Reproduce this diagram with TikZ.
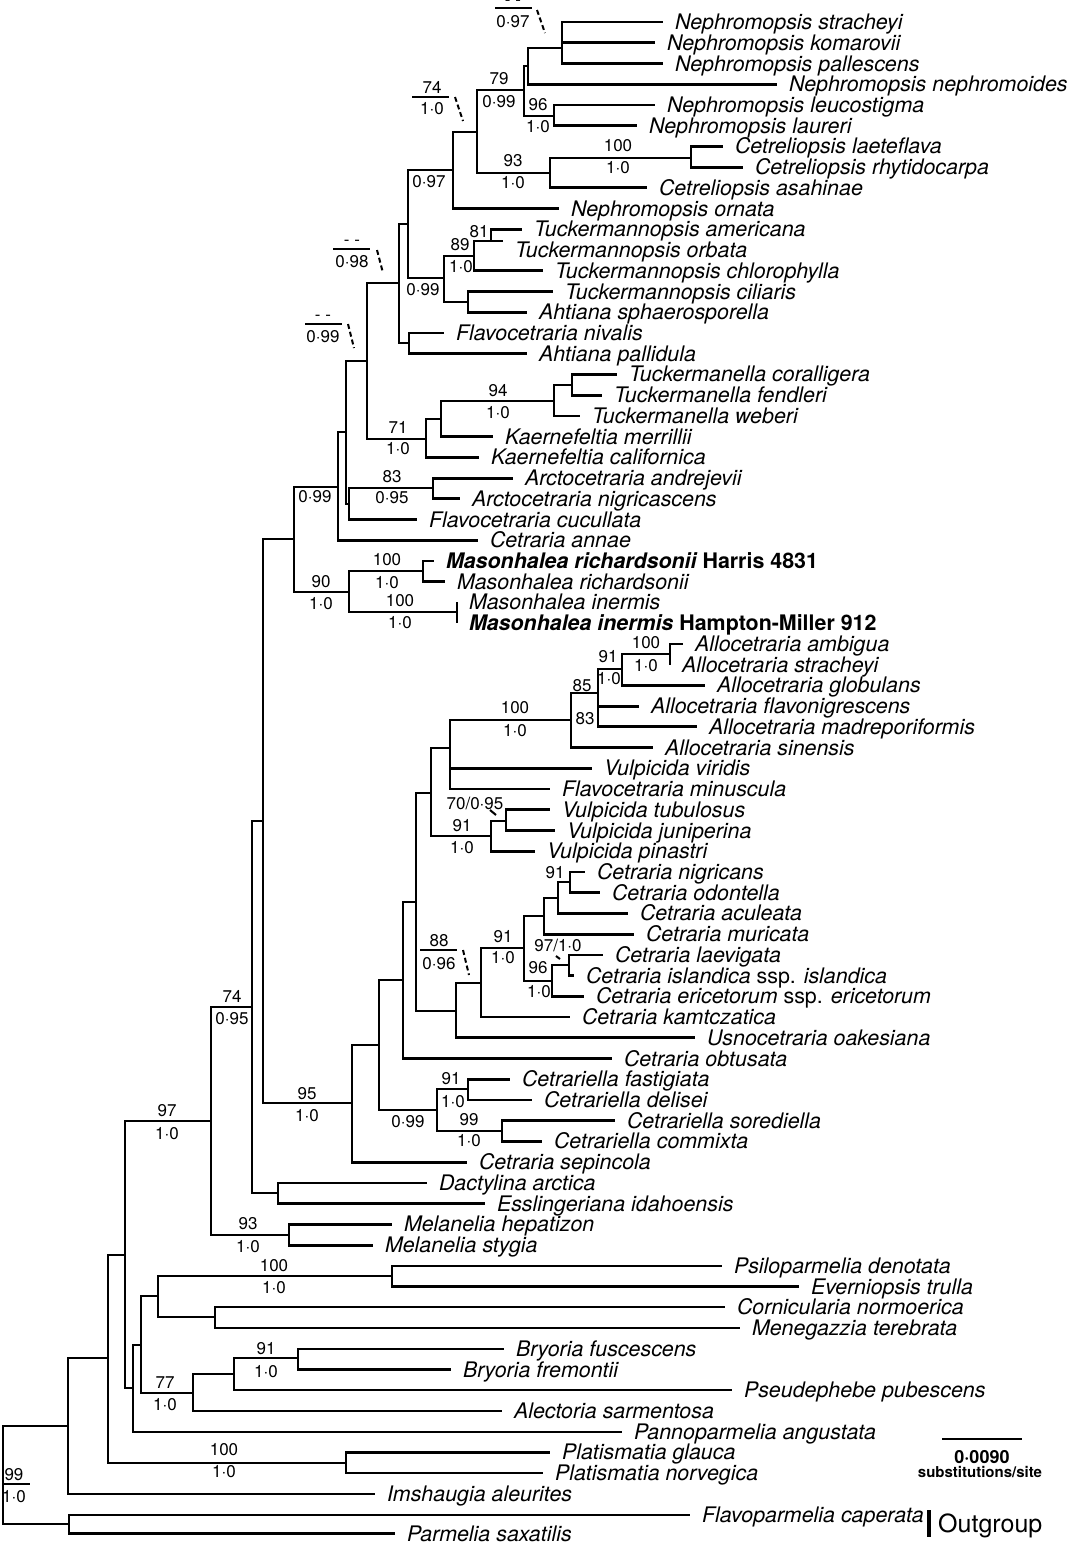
\documentclass[tikz,border=0pt]{standalone}
\usepackage{fontspec}
\setmainfont{TeX Gyre Heros}
\usepackage{tikz}

\begin{document}
\begin{tikzpicture}[x=1pt,y=-1pt,
    branch/.style={line width=2.8pt},
    basal/.style={line width=2.2pt},
    taxon/.style={anchor=west,inner xsep=12pt,inner ysep=0pt,outer sep=0pt,
        text height=15pt,text depth=0pt,font=\fontsize{21.4}{21.4}\selectfont\itshape},
    bs/.style={inner sep=0pt,font=\fontsize{17}{17}\selectfont},
    rule/.style={line width=1.4pt},
    pointer/.style={line width=2pt,dash pattern=on 5pt off 3pt}]
\useasboundingbox (0,0) rectangle (1075,1543);

% taxa
\node[taxon] (nstr) at (663,22) {Nephromopsis stracheyi};
\node[taxon] (nkom) at (655,42.7) {Nephromopsis komarovii};
\node[taxon] (npal) at (663,63.5) {Nephromopsis pallescens};
\node[taxon] (nnep) at (777,84.2) {Nephromopsis nephromoides};
\node[taxon] (nleu) at (655,104.9) {Nephromopsis leucostigma};
\node[taxon] (nlau) at (637,125.7) {Nephromopsis laureri};
\node[taxon] (clae) at (723,146.4) {Cetreliopsis laeteflava};
\node[taxon] (crhy) at (743,167.1) {Cetreliopsis rhytidocarpa};
\node[taxon] (casa) at (647,187.8) {Cetreliopsis asahinae};
\node[taxon] (norn) at (559,208.6) {Nephromopsis ornata};
\node[taxon] (tame) at (522,229.3) {Tuckermannopsis americana};
\node[taxon] (torb) at (503,250) {Tuckermannopsis orbata};
\coordinate (torbend) at (503,241);
\node[taxon] (tchl) at (543,270.8) {Tuckermannopsis chlorophylla};
\node[taxon] (tcil) at (553,291.5) {Tuckermannopsis ciliaris};
\node[taxon] (asph) at (527,312.2) {Ahtiana sphaerosporella};
\node[taxon] (fniv) at (444,333) {Flavocetraria nivalis};
\node[taxon] (apal) at (527,353.7) {Ahtiana pallidula};
\node[taxon] (tcor) at (617,374.4) {Tuckermanella coralligera};
\node[taxon] (tfen) at (602,395.1) {Tuckermanella fendleri};
\node[taxon] (tweb) at (580,415.9) {Tuckermanella weberi};
\node[taxon] (kmer) at (493,436.6) {Kaernefeltia merrillii};
\node[taxon] (kcal) at (479,457.3) {Kaernefeltia californica};
\node[taxon] (aand) at (513,478.1) {Arctocetraria andrejevii};
\node[taxon] (anig) at (460,498.8) {Arctocetraria nigricascens};
\node[taxon] (fcuc) at (417,519.5) {Flavocetraria cucullata};
\node[taxon] (cann) at (478,540.3) {Cetraria annae};
\node[taxon] (mrh1) at (434,561) {\bfseries Masonhalea richardsonii \upshape Harris 4831};
\node[taxon] (mrh2) at (445,581.7) {Masonhalea richardsonii};
\node[taxon] (min1) at (457,602.4) {Masonhalea inermis};
\node[taxon] (min2) at (457,623.2) {\bfseries Masonhalea inermis \upshape Hampton-Miller 912};
\node[taxon] (aamb) at (683,643.9) {Allocetraria ambigua};
\node[taxon] (astr) at (670,664.6) {Allocetraria stracheyi};
\node[taxon] (aglo) at (705,685.4) {Allocetraria globulans};
\node[taxon] (afla) at (639,706.1) {Allocetraria flavonigrescens};
\node[taxon] (amad) at (697,726.8) {Allocetraria madreporiformis};
\node[taxon] (asin) at (653,747.6) {Allocetraria sinensis};
\node[taxon] (vvir) at (592,768.3) {Vulpicida viridis};
\node[taxon] (fmin) at (550,789) {Flavocetraria minuscula};
\node[taxon] (vtub) at (550,809.7) {Vulpicida tubulosus};
\node[taxon] (vjun) at (555,830.5) {Vulpicida juniperina};
\node[taxon] (vpin) at (535,851.2) {Vulpicida pinastri};
\node[taxon] (cnig) at (585,871.9) {Cetraria nigricans};
\node[taxon] (codo) at (600,892.7) {Cetraria odontella};
\node[taxon] (cacu) at (628,913.4) {Cetraria aculeata};
\node[taxon] (cmur) at (634,934.1) {Cetraria muricata};
\node[taxon] (clvg) at (603,954.9) {Cetraria laevigata};
\node[taxon] (cisl) at (574,975.6) {Cetraria islandica {\upshape ssp.} islandica};
\node[taxon] (ceri) at (584,996.3) {Cetraria ericetorum {\upshape ssp.} ericetorum};
\node[taxon] (ckam) at (570,1017) {Cetraria kamtczatica};
\node[taxon] (uoak) at (695,1037.8) {Usnocetraria oakesiana};
\node[taxon] (cobt) at (612,1058.5) {Cetraria obtusata};
\node[taxon] (cfas) at (510,1079.2) {Cetrariella fastigiata};
\node[taxon] (cdel) at (532,1100) {Cetrariella delisei};
\node[taxon] (csor) at (615,1120.7) {Cetrariella sorediella};
\node[taxon] (ccom) at (542,1141.4) {Cetrariella commixta};
\node[taxon] (csep) at (467,1162.2) {Cetraria sepincola};
\node[taxon] (darc) at (427,1182.9) {Dactylina arctica};
\node[taxon] (eida) at (485,1203.6) {Esslingeriana idahoensis};
\node[taxon] (mhep) at (392,1224.3) {Melanelia hepatizon};
\node[taxon] (msty) at (373,1245.1) {Melanelia stygia};
\node[taxon] (pden) at (722,1265.8) {Psiloparmelia denotata};
\node[taxon] (etru) at (799,1286.5) {Everniopsis trulla};
\node[taxon] (cnor) at (725,1307.3) {Cornicularia normoerica};
\node[taxon] (mter) at (740,1328) {Menegazzia terebrata};
\node[taxon] (bfus) at (504,1348.7) {Bryoria fuscescens};
\node[taxon] (bfre) at (451,1369.5) {Bryoria fremontii};
\node[taxon] (ppub) at (732,1390.2) {Pseudephebe pubescens};
\node[taxon] (asar) at (502,1410.9) {Alectoria sarmentosa};
\node[taxon] (pang) at (622,1431.6) {Pannoparmelia angustata};
\node[taxon] (pgla) at (550,1452.4) {Platismatia glauca};
\node[taxon] (pnor) at (543,1473.1) {Platismatia norvegica};
\node[taxon] (iale) at (375,1493.8) {Imshaugia aleurites};
\node[taxon] (fcap) at (690,1514.6) {Flavoparmelia caperata};
\node[taxon] (psax) at (395,1533.5) {Parmelia saxatilis};

% internal nodes, upper part
\coordinate (neph3) at (562,48);
\coordinate (nephA) at (528,66);
\coordinate (leuc) at (554,116);
\coordinate (n79) at (524,90);
\coordinate (cetrel) at (691,158);
\coordinate (n93) at (550,173);
\coordinate (n74) at (477,132);
\coordinate (n097) at (453,170);
\coordinate (n81) at (491,241);
\coordinate (n89) at (474,256);
\coordinate (cil) at (468,302);
\coordinate (n099a) at (444,278);
\coordinate (nE) at (408,224);
\coordinate (niv) at (409,343);
\coordinate (n098) at (399,283);
\coordinate (tuckm) at (572,385);
\coordinate (n94) at (554,401);
\coordinate (kaer) at (441,419);
\coordinate (n71) at (426,439);
\coordinate (nI) at (367,361);
\coordinate (n83) at (433,488);
\coordinate (nL) at (349,504);
\coordinate (n099b) at (346,432);
\coordinate (nJ) at (338,487);
\coordinate (masr) at (423,571);
\coordinate (masi) at (457,612);
\coordinate (n90) at (349,592);
\coordinate (nM) at (294,539);

\draw[branch] (neph3) |- (nstr.west) (neph3) |- (nkom.west) (neph3) |- (npal.west);
\draw[branch] (nephA) |- (neph3) (nephA) |- (nnep.west);
\draw[branch] (leuc) |- (nleu.west) (leuc) |- (nlau.west);
\draw[branch] (n79) |- (nephA) (n79) |- (leuc);
\draw[branch] (cetrel) |- (clae.west) (cetrel) |- (crhy.west);
\draw[branch] (n93) |- (cetrel) (n93) |- (casa.west);
\draw[branch] (n74) |- (n79) (n74) |- (n93);
\draw[branch] (n097) |- (n74) (n097) |- (norn.west);
\draw[branch] (n81) |- (tame.west) (n81) -- (torbend);
\draw[branch] (n89) |- (n81) (n89) |- (tchl.west);
\draw[branch] (cil) |- (tcil.west) (cil) |- (asph.west);
\draw[branch] (n099a) |- (n89) (n099a) |- (cil);
\draw[branch] (nE) |- (n097) (nE) |- (n099a);
\draw[branch] (niv) |- (fniv.west) (niv) |- (apal.west);
\draw[branch] (n098) |- (nE) (n098) |- (niv);
\draw[branch] (tuckm) |- (tcor.west) (tuckm) |- (tfen.west);
\draw[branch] (n94) |- (tuckm) (n94) |- (tweb.west);
\draw[branch] (kaer) |- (n94) (kaer) |- (kmer.west);
\draw[branch] (n71) |- (kaer) (n71) |- (kcal.west);
\draw[branch] (nI) |- (n098) (nI) |- (n71);
\draw[branch] (n83) |- (aand.west) (n83) |- (anig.west);
\draw[branch] (nL) |- (n83) (nL) |- (fcuc.west);
\draw[branch] (n099b) |- (nI) (n099b) |- (nL);
\draw[branch] (nJ) |- (n099b) (nJ) |- (cann.west);
\draw[branch] (masr) |- (mrh1.west) (masr) |- (mrh2.west);
\draw[branch] (masi) |- (min1.west) (masi) |- (min2.west);
\draw[branch] (n90) |- (masr) (n90) |- (masi);
\draw[branch] (nM) |- (nJ) (nM) |- (n90);

% internal nodes, middle part
\coordinate (allo2) at (670,654);
\coordinate (n91a) at (622,669);
\coordinate (n83b) at (598,693);
\coordinate (n85) at (571,720);
\coordinate (n100a) at (450,748);
\coordinate (vulp2) at (506,821);
\coordinate (n91b) at (491,836);
\coordinate (nVul) at (431,793);
\coordinate (cet2) at (570,882);
\coordinate (cetB) at (558,898);
\coordinate (cetC) at (544,916);
\coordinate (isl) at (569,965);
\coordinate (n96) at (552,981);
\coordinate (n91c) at (524,948);
\coordinate (n88s) at (481,983);
\coordinate (n088) at (456,1011);
\coordinate (nCet) at (416,902);
\coordinate (nObt) at (403,980);
\coordinate (cetr2) at (468,1089);
\coordinate (cetr3) at (502,1131);
\coordinate (n099c) at (437,1110);
\coordinate (nCeB) at (379,1045);
\coordinate (n95) at (352,1103);
\coordinate (nO) at (263,821);
\coordinate (dact) at (278,1193);
\coordinate (n74b) at (252,1007);
\coordinate (mel) at (289,1235);
\coordinate (n97) at (211,1121);

\draw[branch] (allo2) |- (aamb.west) (allo2) |- (astr.west);
\draw[branch] (n91a) |- (allo2) (n91a) |- (aglo.west);
\draw[branch] (n83b) |- (n91a) (n83b) |- (afla.west) (n83b) |- (amad.west);
\draw[branch] (n85) |- (n83b) (n85) |- (asin.west);
\draw[branch] (n100a) |- (n85) (n100a) |- (vvir.west) (n100a) |- (fmin.west);
\draw[branch] (vulp2) |- (vtub.west) (vulp2) |- (vjun.west);
\draw[branch] (n91b) |- (vulp2) (n91b) |- (vpin.west);
\draw[branch] (nVul) |- (n100a) (nVul) |- (n91b);
\draw[branch] (cet2) |- (cnig.west) (cet2) |- (codo.west);
\draw[branch] (cetB) |- (cet2) (cetB) |- (cacu.west);
\draw[branch] (cetC) |- (cetB) (cetC) |- (cmur.west);
\draw[branch] (isl) |- (clvg.west) (isl) |- (cisl.west);
\draw[branch] (n96) |- (isl) (n96) |- (ceri.west);
\draw[branch] (n91c) |- (cetC) (n91c) |- (n96);
\draw[branch] (n88s) |- (n91c) (n88s) |- (ckam.west);
\draw[branch] (n088) |- (n88s) (n088) |- (uoak.west);
\draw[branch] (nCet) |- (nVul) (nCet) |- (n088);
\draw[branch] (nObt) |- (nCet) (nObt) |- (cobt.west);
\draw[branch] (cetr2) |- (cfas.west) (cetr2) |- (cdel.west);
\draw[branch] (cetr3) |- (csor.west) (cetr3) |- (ccom.west);
\draw[branch] (n099c) |- (cetr2) (n099c) |- (cetr3);
\draw[branch] (nCeB) |- (nObt) (nCeB) |- (n099c);
\draw[branch] (n95) |- (nCeB) (n95) |- (csep.west);
\draw[branch] (nO) |- (nM) (nO) |- (n95);
\draw[branch] (dact) |- (darc.west) (dact) |- (eida.west);
\draw[branch] (n74b) |- (nO) (n74b) |- (dact);
\draw[branch] (mel) |- (mhep.west) (mel) |- (msty.west);
\draw[branch] (n97) |- (n74b) (n97) |- (mel);

% internal nodes, basal part
\coordinate (psil) at (392,1276);
\coordinate (corn) at (215,1317);
\coordinate (nU) at (158,1296);
\coordinate (bry) at (298,1358);
\coordinate (nW) at (234,1374);
\coordinate (n77) at (193,1393);
\coordinate (nT) at (141,1345);
\coordinate (nS) at (133,1388);
\coordinate (nR) at (125,1255);
\coordinate (plat) at (346,1463);
\coordinate (nX) at (108,1358);
\coordinate (nY) at (68,1426);
\coordinate (outg) at (69,1524);
\coordinate (root) at (3,1475);

\draw[basal] (psil) |- (pden.west) (psil) |- (etru.west);
\draw[basal] (corn) |- (cnor.west) (corn) |- (mter.west);
\draw[basal] (nU) |- (psil) (nU) |- (corn);
\draw[basal] (bry) |- (bfus.west) (bry) |- (bfre.west);
\draw[basal] (nW) |- (bry) (nW) |- (ppub.west);
\draw[basal] (n77) |- (nW) (n77) |- (asar.west);
\draw[basal] (nT) |- (nU) (nT) |- (n77);
\draw[basal] (nS) |- (nT) (nS) |- (pang.west);
\draw[basal] (nR) |- (n97) (nR) |- (nS);
\draw[basal] (plat) |- (pgla.west) (plat) |- (pnor.west);
\draw[basal] (nX) |- (nR) (nX) |- (plat);
\draw[basal] (nY) |- (nX) (nY) |- (iale.west);
\draw[basal] (outg) |- (fcap.west) (outg) |- (psax.west);
\draw[basal] (root) |- (nY) (root) |- (outg);

% support values
\node[bs,anchor=base] (d097) at (513,5) {- -};
\draw[rule] (495,8) -- (532,8);
\node[bs] (p097) at (513,22) {0·97};
\draw[pointer] (537,10) -- (545,33);
\node[bs] (b79) at (499,79) {79};
\node[bs] (p79) at (499,102) {0·99};
\node[bs] (b96) at (538,105) {96};
\node[bs] (p96) at (538,127) {1·0};
\node[bs] (b74) at (432,87) {74};
\draw[rule] (412,97) -- (449,97);
\node[bs] (p74) at (432,109) {1·0};
\draw[pointer] (455,97) -- (463,121);
\node[bs] (b100c) at (618,146) {100};
\node[bs] (p100c) at (618,168) {1·0};
\node[bs] (b93) at (513,161) {93};
\node[bs] (p93) at (513,183) {1·0};
\node[bs] (p097b) at (429,182) {0·97};
\node[bs] (b81) at (479,232) {81};
\node[bs] (b89) at (460,245) {89};
\node[bs] (p89) at (461,267) {1·0};
\node[bs] (p099t) at (423,290) {0·99};
\node[bs,anchor=base] (d098) at (352,245) {- -};
\draw[rule] (333,249) -- (370,249);
\node[bs] (p098) at (352,262) {0·98};
\draw[pointer] (377,250) -- (383,273);
\node[bs,anchor=base] (d099) at (323,320) {- -};
\draw[rule] (305,324) -- (342,324);
\node[bs] (p099d) at (323,337) {0·99};
\draw[pointer] (348,324) -- (354,348);
\node[bs] (b94) at (498,391) {94};
\node[bs] (p94) at (498,413) {1·0};
\node[bs] (b71) at (398,427) {71};
\node[bs] (p71) at (398,449) {1·0};
\node[bs] (b83) at (392,477) {83};
\node[bs] (p83) at (392,498) {0·95};
\node[bs] (p099j) at (315,497) {0·99};
\node[bs] (b100r) at (387,560) {100};
\node[bs] (p100r) at (387,583) {1·0};
\node[bs] (b90) at (321,582) {90};
\node[bs] (p90) at (321,604) {1·0};
\node[bs] (b100i) at (400,601) {100};
\node[bs] (p100i) at (400,623) {1·0};

\node[bs] (b100a) at (646,643) {100};
\node[bs] (p100a) at (646,666) {1·0};
\node[bs] (b91a) at (608,657) {91};
\node[bs] (p91a) at (609,679) {1·0};
\node[bs] (b85) at (582,686) {85};
\node[bs] (b83a) at (585,719) {83};
\node[bs] (b100v) at (515,708) {100};
\node[bs] (p100v) at (515,731) {1·0};
\node[bs] (b70) at (475,803) {70/0·95};
\draw[line width=2pt] (490,810) -- (496,815);
\node[bs] (b91v) at (462,826) {91};
\node[bs] (p91v) at (462,848) {1·0};

\node[bs] (b91n) at (555,873) {91};
\node[bs] (b97c) at (558,945) {97/1·0};
\draw[line width=2pt] (556,956) -- (560,959);
\node[bs] (b96c) at (538,968) {96};
\node[bs] (p96c) at (539,992) {1·0};
\node[bs] (b91c) at (503,937) {91};
\node[bs] (p91c) at (503,958) {1·0};
\node[bs] (b88) at (439,941) {88};
\draw[rule] (420,950) -- (457,950);
\node[bs] (p88) at (439,964) {0·96};
\draw[pointer] (463,950) -- (469,975);
\node[bs] (b91f) at (451,1079) {91};
\node[bs] (p91f) at (453,1102) {1·0};
\node[bs] (b99) at (469,1120) {99};
\node[bs] (p99) at (469,1141) {1·0};
\node[bs] (p099c) at (408,1122) {0·99};
\node[bs] (b95) at (307,1094) {95};
\node[bs] (p95) at (307,1116) {1·0};
\node[bs] (b74b) at (232,996) {74};
\node[bs] (p74b) at (232,1019) {0·95};
\node[bs] (b97b) at (167,1111) {97};
\node[bs] (p97b) at (167,1134) {1·0};
\node[bs] (b93m) at (248,1224) {93};
\node[bs] (p93m) at (248,1247) {1·0};
\node[bs] (b100p) at (274,1266) {100};
\node[bs] (p100p) at (274,1288) {1·0};
\node[bs] (b91b) at (266,1349) {91};
\node[bs] (p91b) at (266,1372) {1·0};
\node[bs] (b77) at (165,1383) {77};
\node[bs] (p77) at (165,1405) {1·0};
\node[bs] (b100g) at (224,1450) {100};
\node[bs] (p100g) at (224,1472) {1·0};
\node[bs] (b99r) at (14,1475) {99};
\draw[rule] (4,1484) -- (30,1484);
\node[bs] (p99r) at (14,1497) {1·0};

% scale bar and outgroup
\coordinate (scl) at (942,1439);
\coordinate (scr) at (1022,1439);
\draw[line width=2.5pt] (scl) -- (scr);
\node[inner sep=0pt,font=\fontsize{18}{18}\selectfont\bfseries] (scv) at (982,1457) {0·0090};
\node[inner sep=0pt,font=\fontsize{15}{15}\selectfont\bfseries] (scu) at (980,1472) {substitutions/site};
\coordinate (ogt) at (929,1510);
\coordinate (ogb) at (929,1537);
\draw[line width=4.5pt] (ogt) -- (ogb);
\node[anchor=west,inner sep=0pt,text height=18pt,text depth=0pt,
    font=\fontsize{25}{25}\selectfont] (outl) at (938,1523) {Outgroup};
\end{tikzpicture}
\end{document}
